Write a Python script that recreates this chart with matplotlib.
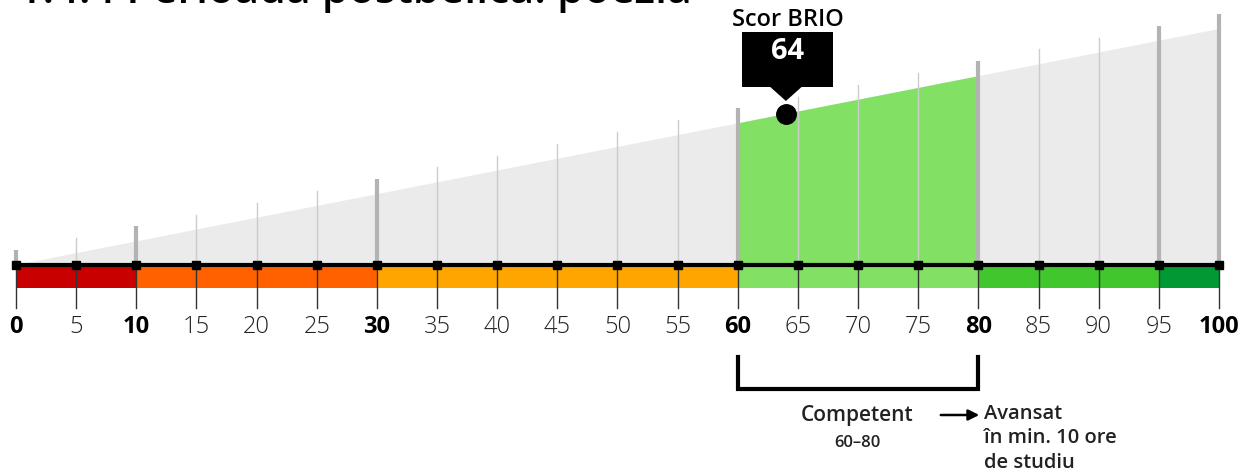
import matplotlib

matplotlib.use("Agg")
import matplotlib.pyplot as plt
from matplotlib.patches import Polygon, Rectangle

plt.rcParams["font.family"] = ["Open Sans", "DejaVu Sans"]

# scale data
ticks = list(range(0, 101, 5))
thick_ticks = [0, 10, 30, 60, 80, 95, 100]
bold_labels = [0, 10, 30, 60, 80, 100]
band_edges = [0, 10, 30, 60, 80, 95, 100]
band_colors = ["#c80000", "#ff6000", "#ffa500", "#82e065", "#41c62d", "#009933"]
score = 64
level_lo, level_hi = 60, 80
level_name = "Competent"
next_level = "Avansat\nîn min. 10 ore\nde studiu"
title = "1.4.4 Perioada postbelică: poezia"

slope = 2.36  # wedge height per point (px)

fig = plt.figure(figsize=(12.4, 4.77), dpi=100)
ax = fig.add_axes([0, 0, 1, 1])
ax.set_xlim(-16 / 12.03, (1240 - 16) / 12.03)
ax.set_ylim(266 - 477, 266)
ax.axis("off")


def px(x):
    # pixel column -> scale value
    return (x - 16) / 12.03


# grey wedge
ax.add_patch(Polygon([(0, 0), (100, 100 * slope), (100, 0)], closed=True,
                     facecolor="#ebebeb", edgecolor="none", zorder=1))
# highlighted level
ax.add_patch(Polygon([(level_lo, 0), (level_lo, level_lo * slope),
                      (level_hi, level_hi * slope), (level_hi, 0)], closed=True,
                     facecolor="#82e065", edgecolor="none", zorder=2))

# vertical guides
for t in ticks:
    top = t * slope + 15
    if t in thick_ticks:
        ax.plot([t, t], [0, top], color="#b3b3b3", lw=3, zorder=3, solid_capstyle="butt")
    else:
        ax.plot([t, t], [0, top], color="#cccccc", lw=1, zorder=3)

# colour band
for i, c in enumerate(band_colors):
    ax.add_patch(Rectangle((band_edges[i], -23), band_edges[i + 1] - band_edges[i], 23,
                           facecolor=c, edgecolor="none", zorder=4))

# ticks below
for t in ticks:
    ax.plot([t, t], [0, -43], color="#333333", lw=1, zorder=5)

# baseline and markers
ax.plot([0, 100], [0, 0], color="black", lw=3, zorder=6)
ax.plot(ticks, [0] * len(ticks), "s", color="black", ms=6, zorder=7)

# tick labels
for t in ticks:
    if t in bold_labels:
        ax.text(t, -61, str(t), ha="center", va="center", fontsize=17,
                fontweight="bold", color="black", zorder=8)
    else:
        ax.text(t, -61, str(t), ha="center", va="center", fontsize=17,
                fontweight="light", color="#222222", zorder=8)

# score marker and callout
ax.plot([score], [score * slope], "o", color="black", ms=14, zorder=9)
bx0, bx1 = px(742), px(833)
ax.add_patch(Polygon([(bx0, 266 - 33), (bx1, 266 - 33), (bx1, 266 - 88),
                      (score + 1.3, 266 - 88), (score, 266 - 102),
                      (score - 1.3, 266 - 88), (bx0, 266 - 88)],
                     closed=True, facecolor="black", edgecolor="none", zorder=9))
ax.text((bx0 + bx1) / 2, 266 - 52, str(score), ha="center", va="center",
        fontsize=21, fontweight="bold", color="white", zorder=10)
ax.text((bx0 + bx1) / 2, 266 - 20, "Scor BRIO", ha="center", va="center",
        fontsize=17, fontweight="semibold", color="black", zorder=10)

# bracket for level
ax.plot([level_lo, level_lo, level_hi, level_hi], [-92, -124, -124, -92],
        color="black", lw=3, solid_joinstyle="miter", zorder=8)
ax.text(px(857), 266 - 416, level_name, ha="center", va="center", fontsize=15,
        fontweight="semibold", color="#222222")
ax.text(px(857), 266 - 443, f"{level_lo}–{level_hi}", ha="center", va="center",
        fontsize=12, fontweight="semibold", color="#222222")
ax.annotate("", xy=(px(982), 266 - 416), xytext=(px(938), 266 - 416),
            arrowprops=dict(arrowstyle="-|>", color="black", lw=1.8, mutation_scale=16))
ax.text(px(984), 266 - 404, next_level, ha="left", va="top", fontsize=14.5,
        fontweight="semibold", color="#222222", linespacing=1.3)

# title, cut by the top edge
fig.text(18 / 1240, 1 - 3 / 477, title, ha="left", va="baseline", fontsize=31,
         fontweight="semibold", color="black")

fig.savefig("out.png", dpi=100)
